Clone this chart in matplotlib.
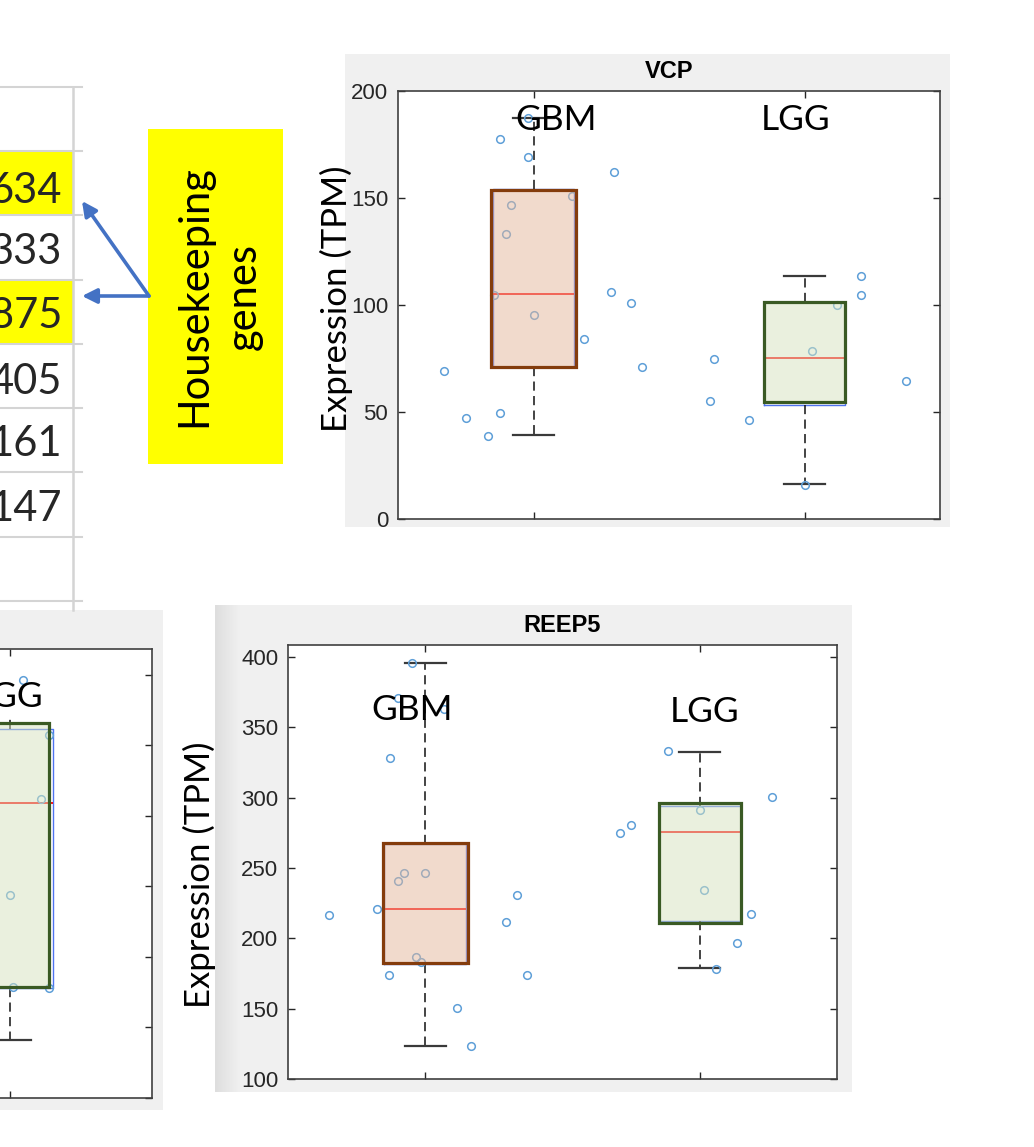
import numpy as np
import matplotlib
matplotlib.use('Agg')
import matplotlib.pyplot as plt
from matplotlib.patches import Rectangle
from matplotlib.colors import LinearSegmentedColormap

W, H = 1034, 1147

# spreadsheet fragment (right-most column only visible)
table_vals = ['634', '333', '875', '405', '161', '147']
table_yellow = [True, False, True, False, False, False]

# VCP
vcp_gbm_x = [0.668, 0.750, 0.833, 0.875, 0.875, 0.981, 0.981, 0.916, 0.898,
             0.854, 1.000, 1.141, 1.185, 1.298, 1.285, 1.360, 1.400]
vcp_gbm_y = [69.3, 47.0, 38.9, 49.3, 177.4, 169.3, 187.2, 146.6, 133.1,
             104.7, 95.1, 151.0, 83.9, 162.2, 106.1, 100.9, 71.0]
vcp_lgg_x = [1.667, 1.652, 1.796, 2.028, 2.119, 2.208, 2.208, 2.373, 2.000]
vcp_lgg_y = [75.0, 55.3, 46.4, 78.6, 100.1, 113.6, 104.9, 64.6, 15.9]
vcp_q1 = [70.8, 53.2]
vcp_med = [105.2, 75.2]
vcp_q3 = [154.0, 101.5]
vcp_lo = [39.2, 16.3]
vcp_hi = [187.2, 113.6]
vcp_fill_q1 = [71.1, 54.8]
vcp_fill_q3 = [153.6, 101.5]

# REEP5
reep_gbm_x = [0.651, 0.825, 0.867, 0.870, 0.901, 0.899, 0.922, 0.950, 0.968,
              0.983, 1.000, 1.068, 1.114, 1.166, 1.294, 1.336, 1.372]
reep_gbm_y = [216.4, 220.9, 173.9, 328.5, 371.0, 240.9, 246.3, 395.5, 186.7,
              183.1, 246.3, 363.2, 150.6, 123.3, 211.9, 230.9, 173.9]
reep_lgg_x = [1.709, 1.751, 1.883, 2.000, 2.017, 2.060, 2.137, 2.187, 2.265]
reep_lgg_y = [275.1, 280.5, 332.8, 291.2, 234.7, 178.4, 196.7, 217.3, 300.5]
reep_q1 = [181.5, 212.4]
reep_med = [220.6, 275.3]
reep_q3 = [267.0, 294.1]
reep_lo = [123.3, 178.6]
reep_hi = [395.7, 332.5]
reep_fill_q1 = [182.4, 210.9]
reep_fill_q3 = [267.9, 296.4]

# third gene, cut off at the left edge (only the LGG box shows)
hk3_lgg_x = [2.046, 2.137, 2.109, 2.000, 2.011, 2.137]
hk3_lgg_y = [396.7, 357.1, 311.8, 243.8, 178.6, 177.9]
hk3_q1, hk3_med, hk3_q3, hk3_lo, hk3_hi = 177.9, 308.9, 362.0, 141.1, 370.5
hk3_fill_q1, hk3_fill_q3 = 178.6, 365.6

GREY = '#F0F0F0'
BLUE_BOX = '#4F73F0'
PT = '#5E9FD8'
GBM_FACE = (0.898, 0.718, 0.608, 0.5)
GBM_EDGE = '#843C0C'
LGG_FACE = (0.843, 0.890, 0.749, 0.5)
LGG_EDGE = '#3A5A24'
SLIDE_FONT = 'Lato'

fig = plt.figure(figsize=(W / 100, H / 100), dpi=100)


def px_rect(l, t, r, b):
    return [l / W, 1 - b / H, (r - l) / W, (b - t) / H]


# background layer in pixel coordinates
bg = fig.add_axes([0, 0, 1, 1], zorder=0)
bg.axis('off')

bg.add_patch(Rectangle((345, 54), 605, 473, color=GREY, lw=0))
bg.add_patch(Rectangle((215, 605), 637, 487, color=GREY, lw=0))
bg.add_patch(Rectangle((0, 610), 163, 500, color=GREY, lw=0))
shade = LinearSegmentedColormap.from_list('shade', ['#DEDEDE', GREY])
bg.imshow(np.linspace(0, 1, 50)[None, :], extent=(215, 240, 1092, 605),
          cmap=shade, aspect='auto', zorder=1)

# table
row_lines = [87, 151, 215, 280, 344, 408, 472, 537, 601]
for i, v in enumerate(table_vals):
    if table_yellow[i]:
        bg.add_patch(Rectangle((0, row_lines[i + 1]), 73, row_lines[i + 2] - row_lines[i + 1],
                               color='#FFFF00', lw=0, zorder=2))
for y in row_lines:
    bg.plot([0, 82], [y, y], color='#D4D4D4', lw=1.5, zorder=3)
bg.plot([73, 73], [87, 610], color='#D4D4D4', lw=1.8, zorder=3)
baselines = [203, 264, 328, 394, 456, 521]
for v, yb in zip(table_vals, baselines):
    bg.text(62, yb, v, ha='right', va='baseline', fontsize=30,
            family=SLIDE_FONT, color='#262626', zorder=4)

# yellow callout and arrows
bg.add_patch(Rectangle((148, 129), 135, 335, color='#FFFF00', lw=0, zorder=2))
bg.text(219, 296, 'Housekeeping\ngenes', rotation=90, ha='center', va='center',
        multialignment='center', fontsize=30, family=SLIDE_FONT, linespacing=1.4,
        zorder=4)
for tip in [(82, 201), (82, 296)]:
    bg.annotate('', xy=tip, xytext=(149, 296),
                arrowprops=dict(arrowstyle='-|>', color='#4472C4', lw=2.6,
                                mutation_scale=22, shrinkA=0, shrinkB=0), zorder=4)

bg.set_xlim(0, W)
bg.set_ylim(H, 0)


def style_axes(ax, yticks, ylim, labels=True):
    ax.set_facecolor('white')
    ax.set_xlim(0.5, 2.5)
    ax.set_ylim(*ylim)
    ax.set_xticks([1, 2])
    ax.set_xticklabels([])
    ax.set_yticks(yticks)
    ax.tick_params(direction='in', top=True, right=True, length=5, width=1,
                   colors='#262626', labelsize=16, pad=7, labelleft=labels)
    for s in ax.spines.values():
        s.set_color('#404040')
        s.set_linewidth(1.2)
    for lbl in ax.get_yticklabels():
        lbl.set_family('Liberation Sans')


def draw_boxes(ax, pos, q1, med, q3, lo, hi, fill_q1, fill_q3, faces, edges, fill_w):
    stats = [dict(q1=a, med=m, q3=b, whislo=l, whishi=h, fliers=[])
             for a, m, b, l, h in zip(q1, med, q3, lo, hi)]
    res = ax.bxp(stats, positions=pos, widths=0.3, capwidths=0.15, showfliers=False,
                 boxprops=dict(color=BLUE_BOX, lw=1.0),
                 medianprops=dict(color='#FF0000', lw=1.3),
                 whiskerprops=dict(color='#111111', lw=1.1, linestyle=(0, (6, 3.5))),
                 capprops=dict(color='#3A3A3A', lw=1.6), manage_ticks=False)
    for p, a, b, fc, ec, w in zip(pos, fill_q1, fill_q3, faces, edges, fill_w):
        ax.add_patch(Rectangle((p - w / 2, a), w, b - a, facecolor=fc,
                               edgecolor=ec, lw=2.3, zorder=4))
    return res


def draw_points(ax, x, y):
    ax.plot(x, y, 'o', mfc='none', mec=PT, ms=5.5, mew=1.1, zorder=3)


def group_label(ax, x, y, s):
    ax.text(x, y, s, ha='center', va='baseline', fontsize=25.5,
            family=SLIDE_FONT, color='black', zorder=10, clip_on=False)


# VCP panel
ax1 = fig.add_axes(px_rect(398, 91, 940, 519), zorder=1)
style_axes(ax1, [0, 50, 100, 150, 200], (0, 200))
draw_boxes(ax1, [1, 2], vcp_q1, vcp_med, vcp_q3, vcp_lo, vcp_hi,
           vcp_fill_q1, vcp_fill_q3, [GBM_FACE, LGG_FACE], [GBM_EDGE, LGG_EDGE], [0.31, 0.30])
draw_points(ax1, vcp_gbm_x, vcp_gbm_y)
draw_points(ax1, vcp_lgg_x, vcp_lgg_y)
ax1.set_title('VCP', fontsize=17, fontweight='bold', family='Liberation Sans', pad=9)
group_label(ax1, 1.083, 181.8, 'GBM')
group_label(ax1, 1.967, 181.8, 'LGG')

# REEP5 panel
ax2 = fig.add_axes(px_rect(288, 645, 837, 1079), zorder=1)
style_axes(ax2, [100, 150, 200, 250, 300, 350, 400], (100, 408.5))
draw_boxes(ax2, [1, 2], reep_q1, reep_med, reep_q3, reep_lo, reep_hi,
           reep_fill_q1, reep_fill_q3, [GBM_FACE, LGG_FACE], [GBM_EDGE, LGG_EDGE], [0.31, 0.30])
draw_points(ax2, reep_gbm_x, reep_gbm_y)
draw_points(ax2, reep_lgg_x, reep_lgg_y)
ax2.set_title('REEP5', fontsize=17, fontweight='bold', family='Liberation Sans', pad=9)
group_label(ax2, 0.953, 355.2, 'GBM')
group_label(ax2, 2.018, 353.7, 'LGG')

# cropped panel at bottom left (its tick labels lie outside the picture)
ax3 = fig.add_axes(px_rect(-416, 649, 152, 1098), zorder=1)
style_axes(ax3, [100, 150, 200, 250, 300, 350, 400], (100, 418.4), labels=False)
r3 = draw_boxes(ax3, [2], [hk3_q1], [hk3_med], [hk3_q3], [hk3_lo], [hk3_hi],
                [hk3_fill_q1], [hk3_fill_q3], [LGG_FACE], [LGG_EDGE], [0.275])
r3['caps'][1].set_visible(False)
draw_points(ax3, hk3_lgg_x, hk3_lgg_y)
group_label(ax3, 1.996, 377.6, 'LGG')

# y labels pasted on the slide
fig.text(336 / W, 1 - 299 / H, 'Expression (TPM)', rotation=90, ha='center', va='center',
         fontsize=25, family=SLIDE_FONT, zorder=6)
fig.text(199 / W, 1 - 875 / H, 'Expression (TPM)', rotation=90, ha='center', va='center',
         fontsize=25, family=SLIDE_FONT, zorder=6)

# screenshot crop under the VCP panel
fig.add_artist(Rectangle((345 / W, 1 - 545 / H), 60 / W, 18 / H, color='white',
                         lw=0, transform=fig.transFigure, zorder=5))

fig.savefig('out.png', dpi=100)
